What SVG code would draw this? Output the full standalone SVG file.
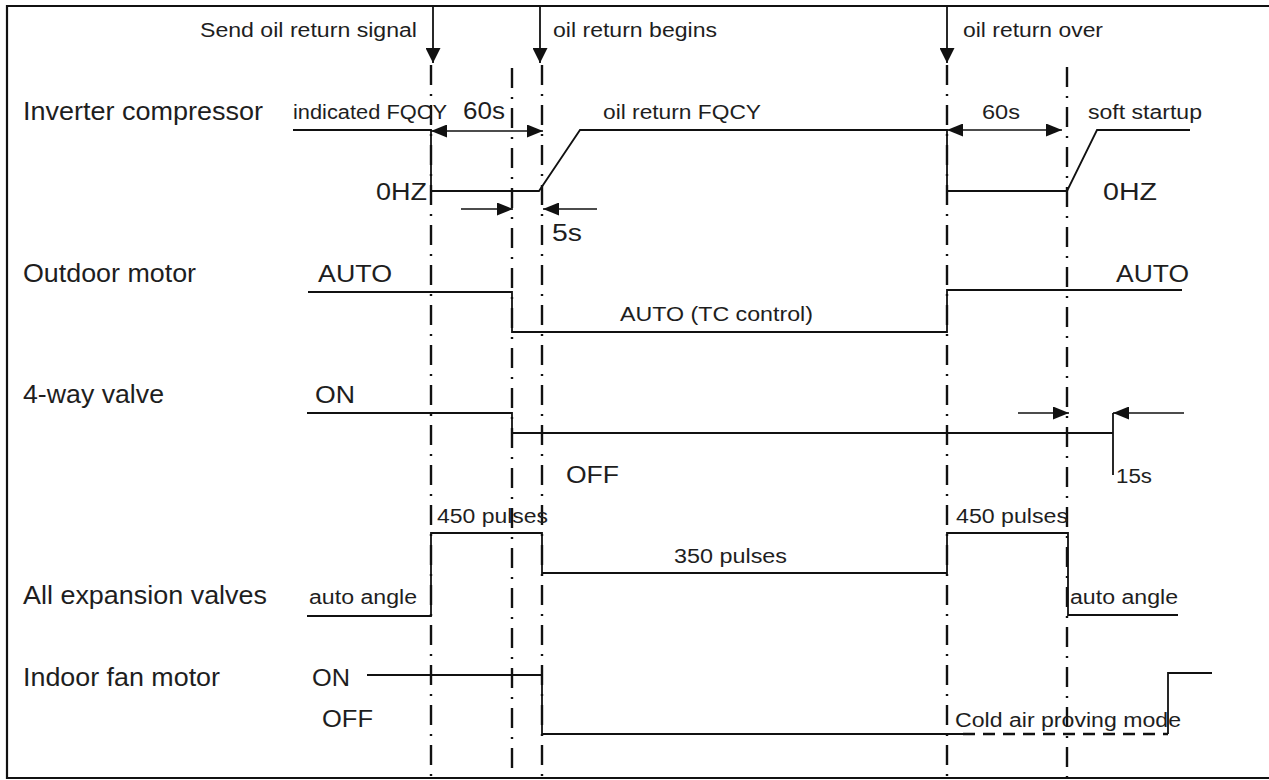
<svg xmlns="http://www.w3.org/2000/svg" width="1269" height="780" viewBox="0 0 1269 780">
<style>
text{font-family:"Liberation Sans",Arial,sans-serif;fill:#1e1e1e}
.lbl{font-size:25px}
.top{font-size:20px}
.sm{font-size:19.5px}
.md{font-size:23px}
.w{fill:none;stroke:#111;stroke-width:1.8}
.dd{fill:none;stroke:#111;stroke-width:2.4;stroke-dasharray:20 9 2 9}
.dsh{fill:none;stroke:#111;stroke-width:2.6;stroke-dasharray:12 8}
.dim{fill:none;stroke:#111;stroke-width:1.6}
</style>
<defs>
<marker id="ah" viewBox="0 0 16 13" refX="16" refY="6.5" markerWidth="16" markerHeight="13" markerUnits="userSpaceOnUse" orient="auto-start-reverse">
<path d="M0,0 L16,6.5 L0,13 z" fill="#111"/>
</marker>
<marker id="big" viewBox="0 0 16 16" refX="16" refY="8" markerWidth="16" markerHeight="15" markerUnits="userSpaceOnUse" orient="auto">
<path d="M0,0 L16,8 L0,16 z" fill="#111"/>
</marker>
</defs>
<rect width="1269" height="780" fill="#fff"/>
<g id="frame">
<path d="M1269,6 H7 V778 H1269" fill="none" stroke="#111" stroke-width="2.2"/>
</g>
<g id="labels">
<text class="lbl" x="23" y="120" textLength="240" lengthAdjust="spacingAndGlyphs">Inverter compressor</text>
<text class="lbl" x="23" y="282" textLength="173" lengthAdjust="spacingAndGlyphs">Outdoor motor</text>
<text class="lbl" x="23" y="403" textLength="141" lengthAdjust="spacingAndGlyphs">4-way valve</text>
<text class="lbl" x="23" y="604" textLength="244" lengthAdjust="spacingAndGlyphs">All expansion valves</text>
<text class="lbl" x="23" y="686" textLength="197" lengthAdjust="spacingAndGlyphs">Indoor fan motor</text>
</g>
<g id="events">
<text class="top" x="200" y="37" textLength="217" lengthAdjust="spacingAndGlyphs">Send oil return signal</text>
<text class="top" x="553" y="37" textLength="164" lengthAdjust="spacingAndGlyphs">oil return begins</text>
<text class="top" x="963" y="37" textLength="140" lengthAdjust="spacingAndGlyphs">oil return over</text>
</g>
<g id="connectors">
<line x1="433" y1="6" x2="433" y2="63" class="w" marker-end="url(#big)"/>
<line x1="540" y1="6" x2="540" y2="63" class="w" marker-end="url(#big)"/>
<line x1="947" y1="6" x2="947" y2="63" class="w" marker-end="url(#big)"/>
<line x1="431" y1="65" x2="431" y2="778" class="dd"/>
<line x1="512" y1="68" x2="512" y2="778" class="dd"/>
<line x1="542" y1="65" x2="542" y2="778" class="dd"/>
<line x1="947" y1="65" x2="947" y2="778" class="dd"/>
<line x1="1067" y1="67" x2="1067" y2="778" class="dd"/>
</g>
<g id="compressor">
<path class="w" d="M293,130 H431 V191 H539 L580,130 H947 V191 H1067 L1097,130 H1190"/>
<line class="dim" x1="431" y1="131" x2="543" y2="131" marker-start="url(#ah)" marker-end="url(#ah)"/>
<line class="dim" x1="947" y1="130" x2="1062" y2="130" marker-start="url(#ah)" marker-end="url(#ah)"/>
<line class="dim" x1="461" y1="209" x2="513" y2="209" marker-end="url(#ah)"/>
<line class="dim" x1="597" y1="209" x2="543" y2="209" marker-end="url(#ah)"/>
<text class="sm" x="293" y="119" textLength="154" lengthAdjust="spacingAndGlyphs">indicated FQCY</text>
<text class="md" x="463" y="119" textLength="42" lengthAdjust="spacingAndGlyphs">60s</text>
<text class="sm" x="603" y="119" textLength="158" lengthAdjust="spacingAndGlyphs">oil return FQCY</text>
<text class="sm" x="982" y="119" textLength="38" lengthAdjust="spacingAndGlyphs">60s</text>
<text class="sm" x="1088" y="119" textLength="114" lengthAdjust="spacingAndGlyphs">soft startup</text>
<text class="md" x="376" y="200" textLength="51" lengthAdjust="spacingAndGlyphs">0HZ</text>
<text class="md" x="1103" y="200" textLength="54" lengthAdjust="spacingAndGlyphs">0HZ</text>
<text class="md" x="552" y="241" textLength="30" lengthAdjust="spacingAndGlyphs">5s</text>
</g>
<g id="outdoor">
<path class="w" d="M308,292 H512 V332 H947 V290 H1182"/>
<text class="md" x="318" y="282" textLength="74" lengthAdjust="spacingAndGlyphs">AUTO</text>
<text class="sm" x="620" y="321" textLength="193" lengthAdjust="spacingAndGlyphs">AUTO (TC control)</text>
<text class="md" x="1116" y="282" textLength="73" lengthAdjust="spacingAndGlyphs">AUTO</text>
</g>
<g id="fourway">
<path class="w" d="M307,413 H512 V433 H1113"/>
<path class="w" d="M1113,413 V475"/>
<line class="dim" x1="1018" y1="413" x2="1069" y2="413" marker-end="url(#ah)"/>
<line class="dim" x1="1184" y1="413" x2="1113" y2="413" marker-end="url(#ah)"/>
<text class="md" x="315" y="403" textLength="40" lengthAdjust="spacingAndGlyphs">ON</text>
<text class="md" x="566" y="483" textLength="53" lengthAdjust="spacingAndGlyphs">OFF</text>
<text class="sm" x="1116" y="483" textLength="36" lengthAdjust="spacingAndGlyphs">15s</text>
</g>
<g id="expansion">
<path class="w" d="M307,616 H431 V533 H542 V573 H947 V533 H1068 V615 H1178"/>
<text class="sm" x="437" y="523" textLength="111" lengthAdjust="spacingAndGlyphs">450 pulses</text>
<text class="sm" x="956" y="523" textLength="112" lengthAdjust="spacingAndGlyphs">450 pulses</text>
<text class="sm" x="674" y="563" textLength="113" lengthAdjust="spacingAndGlyphs">350 pulses</text>
<text class="sm" x="309" y="604" textLength="108" lengthAdjust="spacingAndGlyphs">auto angle</text>
<text class="sm" x="1070" y="604" textLength="108" lengthAdjust="spacingAndGlyphs">auto angle</text>
</g>
<g id="fan">
<path class="w" d="M367,675 H542 V734 H963"/>
<path class="dsh" d="M963,734 H1168"/>
<path class="w" d="M1168,734 V673 H1212"/>
<text class="md" x="312" y="686" textLength="38" lengthAdjust="spacingAndGlyphs">ON</text>
<text class="md" x="322" y="727" textLength="51" lengthAdjust="spacingAndGlyphs">OFF</text>
<text class="sm" x="955" y="727" textLength="226" lengthAdjust="spacingAndGlyphs">Cold air proving mode</text>
</g>
</svg>
